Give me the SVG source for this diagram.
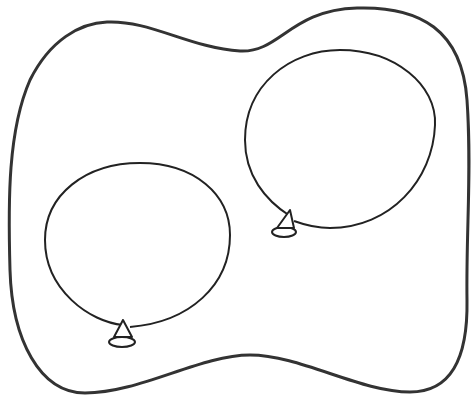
<svg xmlns="http://www.w3.org/2000/svg" width="475" height="401" viewBox="0 0 475 401">
<style>
.outer{fill:none;stroke:#333;stroke-width:3}
.bal{fill:none;stroke:#222;stroke-width:2}
.knot{fill:#fff;stroke:#222;stroke-width:2;stroke-linejoin:round}
</style>
<rect width="475" height="401" fill="#fff"/>
<path id="outer" class="outer" d="M 107 22 C 150 20, 190 48, 240 51 C 280 53, 290 10, 357 8 C 420 6, 462 30, 467 100 C 472 170, 466 230, 467 300 C 468 360, 450 392, 410 392 C 360 392, 300 355, 250 355 C 200 355, 140 393, 85 393 C 40 393, 12 340, 10 270 C 8 200, 8 130, 30 80 C 50 40, 80 23, 107 22 Z"/>
<g id="balloon-left">
<path class="bal" d="M 123 325 C 90 322, 45 290, 45 240 C 45 195, 85 163, 140 163 C 195 163, 230 195, 230 235 C 230 285, 190 322, 130 327"/>
<ellipse class="knot" cx="122" cy="342" rx="13" ry="5"/>
<polygon class="knot" points="123,320 114,337 132,337"/>
</g>
<g id="balloon-right">
<path class="bal" d="M 290 216 C 265 200, 245 175, 245 140 C 245 85, 290 50, 340 50 C 395 50, 437 85, 435 125 C 433 180, 390 228, 330 228 C 315 228, 305 225, 294 221"/>
<ellipse class="knot" cx="284" cy="232" rx="12" ry="5"/>
<polygon class="knot" points="290,210 277,228 294,228"/>
</g>
</svg>
